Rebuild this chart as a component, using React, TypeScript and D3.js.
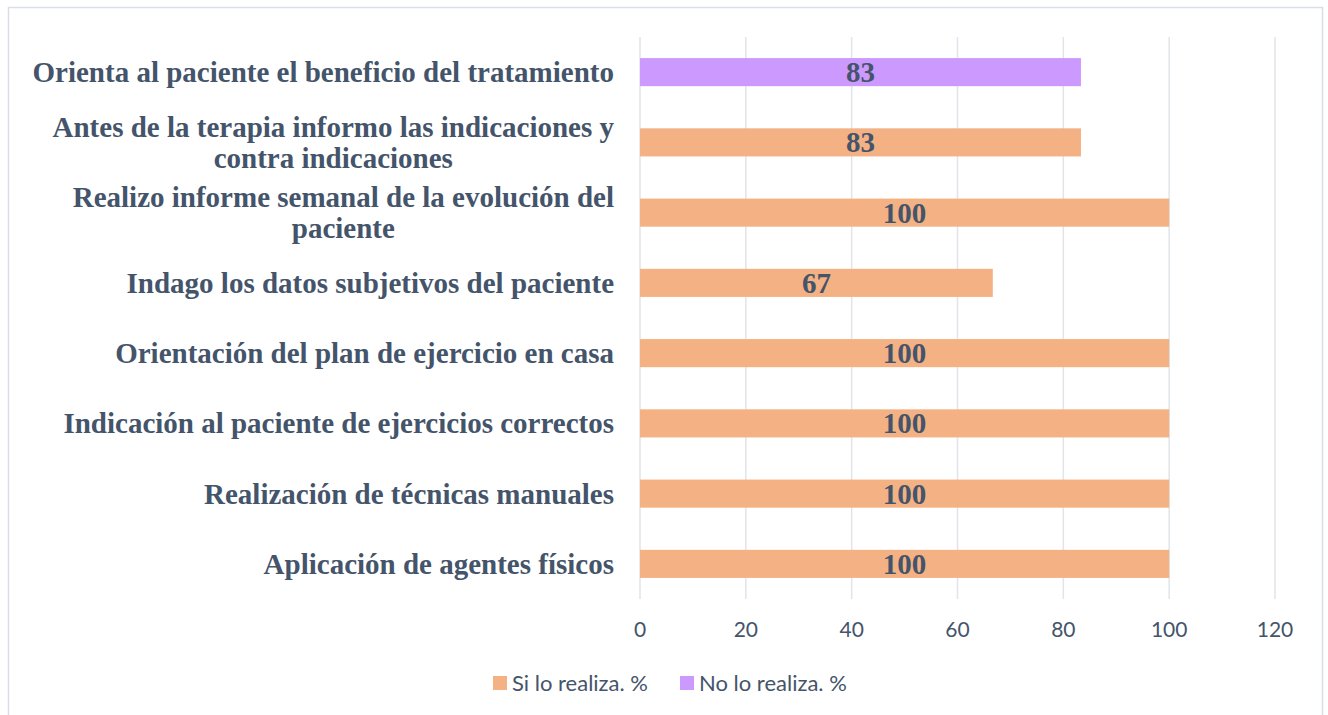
import React from "react";
import * as d3 from "d3";

const categories: string[][] = [
  ["Orienta al paciente el beneficio del tratamiento"],
  ["Antes de la terapia informo las indicaciones y", "contra indicaciones"],
  ["Realizo informe semanal de la evolución del", "paciente"],
  ["Indago los datos subjetivos del paciente"],
  ["Orientación del plan de ejercicio en casa"],
  ["Indicación al paciente de ejercicios correctos"],
  ["Realización de técnicas manuales"],
  ["Aplicación de agentes físicos"],
];
const values: number[] = [83.33, 83.33, 100, 66.67, 100, 100, 100, 100];
const valueLabels: string[] = ["83", "83", "100", "67", "100", "100", "100", "100"];
// series index per bar: 0 = Si lo realiza, 1 = No lo realiza
const seriesOf: number[] = [1, 0, 0, 0, 0, 0, 0, 0];
const seriesNames: string[] = ["Si lo realiza. %", "No lo realiza. %"];
const seriesColors: string[] = ["#F4B183", "#CC99FF"];
const xTicks: number[] = [0, 20, 40, 60, 80, 100, 120];

const W = 1328;
const H = 715;
const plot = { left: 640, right: 1275, top: 37, bottom: 599 };
const textColor = "#44546A";
const labelFont = "'Liberation Serif', 'Times New Roman', serif";
const tickFont = "Lato, 'Open Sans', sans-serif";

export default function App() {
  const x = d3.scaleLinear().domain([0, 120]).range([plot.left, plot.right]);
  const y = d3
    .scaleBand<number>()
    .domain(d3.range(categories.length))
    .range([plot.top, plot.bottom])
    .paddingInner(0.6)
    .paddingOuter(0.3);
  const bw = y.bandwidth();
  const lineH = 31;

  return (
    <svg
      width={W}
      height={H}
      style={{ position: "absolute", left: 0, top: 0, background: "#fff" }}
    >
      <rect x={8.5} y={7.5} width={1314} height={720} fill="#fff" stroke="#D9DEE5" strokeWidth={1.5} />
      {xTicks.map((t) => (
        <line key={t} x1={x(t)} x2={x(t)} y1={plot.top} y2={plot.bottom} stroke="#E1E4E9" strokeWidth={1.5} />
      ))}
      {values.map((v, i) => (
        <rect
          key={i}
          x={x(0)}
          y={y(i)!}
          width={x(v) - x(0)}
          height={bw}
          fill={seriesColors[seriesOf[i]]}
        />
      ))}
      {values.map((v, i) => (
        <text
          key={i}
          x={(x(0) + x(v)) / 2}
          y={y(i)! + bw / 2 + 10}
          textAnchor="middle"
          fontFamily={labelFont}
          fontWeight="bold"
          fontSize={29}
          fill={textColor}
        >
          {valueLabels[i]}
        </text>
      ))}
      {categories.map((lines, i) => {
        const cy = y(i)! + bw / 2;
        const n = lines.length;
        return (
          <CatLabel key={i} lines={lines} right={614} cy={cy} lineH={lineH} n={n} />
        );
      })}
      {xTicks.map((t) => (
        <text
          key={t}
          x={x(t)}
          y={637}
          textAnchor="middle"
          fontFamily={tickFont}
          fontSize={21}
          fill={textColor}
        >
          {t}
        </text>
      ))}
      {seriesNames.map((s, k) => {
        const lx = k === 0 ? 493 : 680;
        return (
          <g key={s}>
            <rect x={lx} y={676} width={14} height={14} fill={seriesColors[k]} />
            <text x={lx + 19} y={691} fontFamily={tickFont} fontSize={22} fill={textColor}>
              {s}
            </text>
          </g>
        );
      })}
    </svg>
  );
}

function CatLabel({ lines, right, cy, lineH, n }: { lines: string[]; right: number; cy: number; lineH: number; n: number }) {
  const ref = React.useRef<SVGGElement>(null);
  const [widths, setWidths] = React.useState<number[] | null>(null);
  React.useEffect(() => {
    if (!ref.current) return;
    const ts = Array.from(ref.current.querySelectorAll("text")) as SVGTextElement[];
    setWidths(ts.map((t) => t.getComputedTextLength()));
  }, []);
  const maxW = widths ? Math.max(...widths) : 0;
  const cx = right - maxW / 2;
  return (
    <g ref={ref}>
      {lines.map((l, j) => {
        const yy = cy + (j - (n - 1) / 2) * lineH + 10;
        return (
          <text
            key={j}
            x={widths ? cx : right}
            y={yy}
            textAnchor={widths ? "middle" : "end"}
            fontFamily={labelFont}
            fontWeight="bold"
            fontSize={29}
            fill={textColor}
          >
            {l}
          </text>
        );
      })}
    </g>
  );
}
